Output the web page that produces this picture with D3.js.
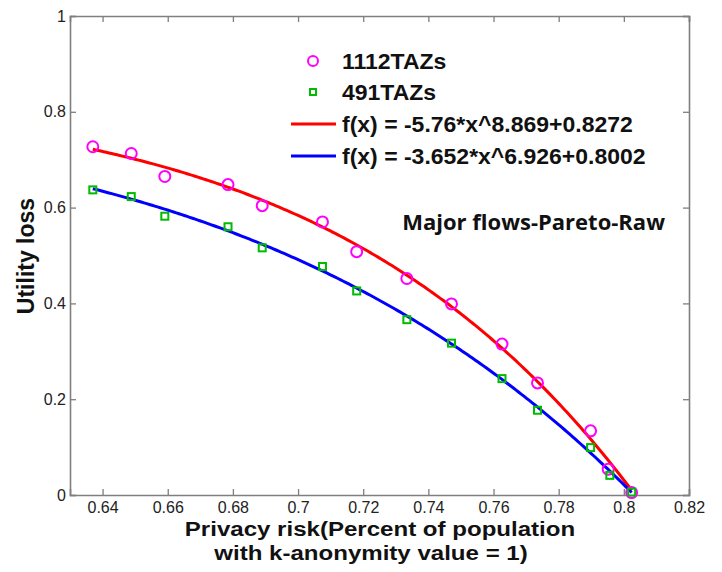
<!DOCTYPE html>
<html><head><meta charset="utf-8">
<script src="https://cdn.jsdelivr.net/npm/d3@7"></script>
<style>body{margin:0;background:#fff}svg{display:block}</style>
</head><body>
<svg id="c" width="722" height="572"></svg>
<script>
// Data
const xTicks = [0.64,0.66,0.68,0.7,0.72,0.74,0.76,0.78,0.8,0.82];
const yTicks = [0,0.2,0.4,0.6,0.8,1];
const risk1112 = [0.6370,0.6488,0.6591,0.6785,0.6890,0.7075,0.7180,0.7334,0.7471,0.7626,0.7735,0.7898,0.7952,0.8024];
const loss1112 = [0.727,0.713,0.665,0.648,0.604,0.570,0.508,0.452,0.399,0.315,0.234,0.134,0.054,0.005];
const risk491  = [0.6370,0.6488,0.6591,0.6785,0.6890,0.7075,0.7180,0.7334,0.7471,0.7626,0.7735,0.7898,0.7957,0.8024];
const loss491  = [0.637,0.623,0.582,0.560,0.516,0.477,0.426,0.366,0.317,0.243,0.177,0.099,0.041,0.006];
// fit coefficients a, b, c for f(x) = a*x^b + c (as printed in the legend)
const fit1112 = [-5.76, 8.869, 0.8272];
const fit491  = [-3.652, 6.926, 0.8002];
const fitRange = [0.637, 0.8024];
const legendLabels = ["1112TAZs","491TAZs","f(x) = -5.76*x^8.869+0.8272","f(x) = -3.652*x^6.926+0.8002"];

const svg = d3.select("#c");
const L=70, R=689, T=16, B=495;
const x = d3.scaleLinear().domain([0.63,0.82]).range([L,R]);
const y = d3.scaleLinear().domain([0,1]).range([B,T]);
const axisCol="#7f7f7f";
const fmt = d => String(+d.toFixed(2));
const font="Liberation Sans, Arial, sans-serif";

const gx = svg.append("g").attr("transform",`translate(0,${B})`)
  .call(d3.axisBottom(x).tickValues(xTicks).tickSize(-6).tickPadding(7).tickFormat(fmt));
const gxt = svg.append("g").attr("transform",`translate(0,${T})`)
  .call(d3.axisTop(x).tickValues(xTicks).tickSize(-6).tickFormat(""));
const gy = svg.append("g").attr("transform",`translate(${L},0)`)
  .call(d3.axisLeft(y).tickValues(yTicks).tickSize(-6).tickPadding(4).tickFormat(fmt));
const gyr = svg.append("g").attr("transform",`translate(${R},0)`)
  .call(d3.axisRight(y).tickValues(yTicks).tickSize(-6).tickFormat(""));
[gx,gxt,gy,gyr].forEach(g=>{
  g.selectAll("path.domain").attr("stroke",axisCol).attr("stroke-width",1.6);
  g.selectAll(".tick line").attr("stroke",axisCol).attr("stroke-width",1.3);
  g.selectAll(".tick text").attr("fill","#222").style("font-family",font).style("font-size","16px");
});

// fit curves
function curve(p){
  const n=200, pts=[];
  for(let i=0;i<=n;i++){const xv=fitRange[0]+(fitRange[1]-fitRange[0])*i/n; pts.push([xv,p[0]*Math.pow(xv,p[1])+p[2]]);}
  return pts;
}
const line = d3.line().x(d=>x(d[0])).y(d=>y(d[1]));
svg.append("path").attr("d",line(curve(fit1112))).attr("fill","none").attr("stroke","#ff0000").attr("stroke-width",3);
svg.append("path").attr("d",line(curve(fit491))).attr("fill","none").attr("stroke","#0000ff").attr("stroke-width",3);

// points
svg.append("g").selectAll("circle").data(risk1112.map((r,i)=>[r,loss1112[i]])).join("circle")
  .attr("cx",d=>x(d[0])).attr("cy",d=>y(d[1])).attr("r",5.5)
  .attr("fill","none").attr("stroke","#ff00ff").attr("stroke-width",2);
svg.append("g").selectAll("rect").data(risk491.map((r,i)=>[r,loss491[i]])).join("rect")
  .attr("x",d=>x(d[0])-3.5).attr("y",d=>y(d[1])-3.5).attr("width",7).attr("height",7)
  .attr("fill","none").attr("stroke","#00bb00").attr("stroke-width",2);

// legend
const lg = svg.append("g").style("font-family",font).style("font-weight","bold").style("font-size","22px");
const rows=[61,92,124,156];
lg.append("circle").attr("cx",313).attr("cy",rows[0]).attr("r",5).attr("fill","none").attr("stroke","#ff00ff").attr("stroke-width",2);
lg.append("rect").attr("x",310).attr("y",rows[1]-3).attr("width",6).attr("height",6).attr("fill","none").attr("stroke","#00bb00").attr("stroke-width",2);
lg.append("line").attr("x1",291).attr("x2",336).attr("y1",rows[2]).attr("y2",rows[2]).attr("stroke","#ff0000").attr("stroke-width",3);
lg.append("line").attr("x1",291).attr("x2",336).attr("y1",rows[3]).attr("y2",rows[3]).attr("stroke","#0000ff").attr("stroke-width",3);
legendLabels.forEach((t,i)=>lg.append("text").attr("transform",`translate(342,${rows[i]+7.5}) scale(1.045,1)`).attr("fill","#111").text(t));

// annotation
svg.append("text").attr("x",665).attr("y",230).attr("text-anchor","end")
  .style("font-family","Open Sans, sans-serif").style("font-weight","bold").style("font-size","22px")
  .attr("fill","#111").text("Major flows-Pareto-Raw");

// axis titles
svg.append("text").attr("transform","translate(34,256) rotate(-90)").attr("text-anchor","middle")
  .style("font-family",font).style("font-weight","bold").style("font-size","23px").attr("fill","#111").text("Utility loss");
svg.append("text").attr("transform","translate(380,536) scale(1.146,1)").attr("text-anchor","middle")
  .style("font-family",font).style("font-weight","bold").style("font-size","21px").attr("fill","#111").text("Privacy risk(Percent of population");
svg.append("text").attr("transform","translate(371,560) scale(1.146,1)").attr("text-anchor","middle")
  .style("font-family",font).style("font-weight","bold").style("font-size","21px").attr("fill","#111").text("with k-anonymity value = 1)");
</script>
</body></html>
